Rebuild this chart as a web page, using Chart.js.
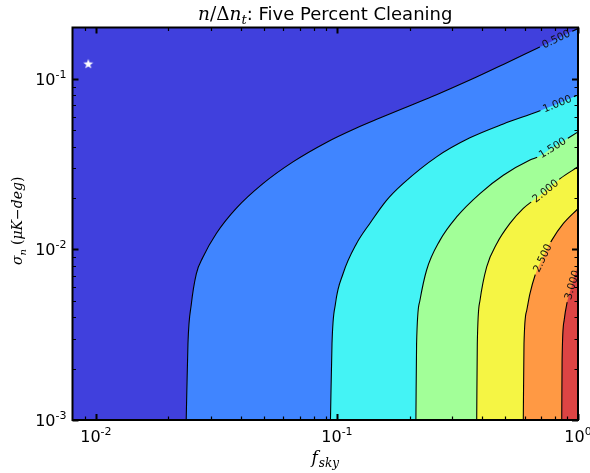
<!DOCTYPE html>
<html><head><meta charset="utf-8">
<script src="https://cdn.jsdelivr.net/npm/chart.js@4/dist/chart.umd.min.js"></script>
<style>html,body{margin:0;padding:0;background:#fff;}</style>
</head><body>
<canvas id="c" width="590" height="473"></canvas>
<script>
// ---- axis ranges & ticks ----
const xRange = [0.008, 1.0];
const yRange = [0.001, 0.2];
const xTicks = [0.01, 0.1, 1];
const xTickExp = ['-2', '-1', '0'];
const yTicks = [0.001, 0.01, 0.1];
const yTickExp = ['-3', '-2', '-1'];

// ---- contour levels ----
const levels = [0.5, 1.0, 1.5, 2.0, 2.5, 3.0];
const levelLabels = ['0.500', '1.000', '1.500', '2.000', '2.500', '3.000'];

// ---- contour curves (f_sky, sigma_n) ----
const c05x = [0.0237, 0.0241, 0.0249, 0.0261, 0.0278, 0.0316, 0.0382, 0.0493, 0.0657, 0.0904, 0.1205, 0.1506, 0.188, 0.259, 0.356, 0.49, 0.674, 0.811, 1.0];
const c05y = [0.001, 0.0028, 0.0048, 0.0072, 0.0090, 0.0124, 0.0174, 0.0243, 0.0326, 0.0424, 0.0515, 0.0589, 0.0671, 0.0807, 0.0983, 0.1215, 0.1508, 0.1709, 0.1972];
const c10x = [0.094, 0.0954, 0.0986, 0.106, 0.1205, 0.1369, 0.1606, 0.188, 0.259, 0.356, 0.49, 0.674, 0.82, 1.0];
const c10y = [0.001, 0.0028, 0.0048, 0.0072, 0.0108, 0.0142, 0.0194, 0.0243, 0.0349, 0.0451, 0.0544, 0.0640, 0.0713, 0.0805];
const c15x = [0.2126, 0.214, 0.2208, 0.2354, 0.2674, 0.3137, 0.392, 0.49, 0.632, 0.685, 0.784, 1.0];
const c15y = [0.001, 0.0028, 0.0050, 0.00755, 0.0113, 0.0155, 0.02125, 0.0272, 0.0334, 0.0349, 0.0394, 0.0489];
const c20x = [0.38, 0.3822, 0.392, 0.418, 0.46, 0.522, 0.593, 0.653, 0.733, 0.843, 1.0];
const c20y = [0.001, 0.0028, 0.0050, 0.0079, 0.0108, 0.0142, 0.0174, 0.0194, 0.0220, 0.026, 0.0305];
const c25x = [0.593, 0.597, 0.613, 0.632, 0.6636, 0.713, 0.778, 0.87, 1.0];
const c25y = [0.001, 0.0028, 0.0044, 0.0055, 0.00706, 0.0089, 0.0113, 0.0142, 0.01735];
const c30x = [0.856, 0.859, 0.876, 0.899, 0.945, 1.0];
const c30y = [0.001, 0.00224, 0.00384, 0.00481, 0.0062, 0.0081];
// index of the point in each contour where its inline label sits
const labelIndex = [17, 12, 10, 8, 5, 4];

// ---- marker ----
const starX = [0.0093];
const starY = [0.1225];

// ---- styles ----
const bgColor = 'rgb(64,64,221)';
const fillColors = ['rgb(64,133,255)', 'rgb(68,243,245)', 'rgb(162,255,152)', 'rgb(245,245,68)', 'rgb(255,153,68)', 'rgb(221,68,68)'];

const contoursX = [c05x, c10x, c15x, c20x, c25x, c30x];
const contoursY = [c05y, c10y, c15y, c20y, c25y, c30y];
const pts = (xs, ys) => xs.map((x, i) => ({x: x, y: ys[i]}));

// star image
const starImg = document.createElement('canvas');
starImg.width = 12; starImg.height = 12;
(function () {
  const g = starImg.getContext('2d');
  g.fillStyle = '#fff';
  g.beginPath();
  for (let i = 0; i < 10; i++) {
    const r = i % 2 === 0 ? 5.2 : 2.1;
    const a = -Math.PI / 2 + i * Math.PI / 5;
    const px = 6 + r * Math.cos(a), py = 6.3 + r * Math.sin(a);
    if (i === 0) g.moveTo(px, py); else g.lineTo(px, py);
  }
  g.closePath(); g.fill();
})();

const datasets = [];
levels.forEach((lv, k) => {
  datasets.push({
    label: 'fill ' + lv,
    data: pts(contoursX[k], contoursY[k]),
    borderWidth: 0, borderColor: 'rgba(0,0,0,0)',
    backgroundColor: fillColors[k],
    fill: 'start', pointRadius: 0, cubicInterpolationMode: 'monotone',
    order: 20 - k
  });
});
levels.forEach((lv, k) => {
  datasets.push({
    label: 'line ' + lv,
    data: pts(contoursX[k], contoursY[k]),
    borderWidth: 1.1, borderColor: '#000',
    fill: false, pointRadius: 0, cubicInterpolationMode: 'monotone',
    order: 10 - k, isContourLine: true, levelIdx: k
  });
});
datasets.push({
  label: 'star',
  data: pts(starX, starY),
  showLine: false, pointStyle: starImg, pointRadius: 6,
  order: 0
});

function labelGeom(chart, k) {
  const xs = chart.scales.x, ys = chart.scales.y;
  const i = labelIndex[k];
  const X = contoursX[k], Y = contoursY[k];
  const cx = xs.getPixelForValue(X[i]), cy = ys.getPixelForValue(Y[i]);
  const ax = xs.getPixelForValue(X[i - 1]), ay = ys.getPixelForValue(Y[i - 1]);
  const bx = xs.getPixelForValue(X[i + 1]), by = ys.getPixelForValue(Y[i + 1]);
  let ang = Math.atan2(by - ay, bx - ax);
  if (ang > Math.PI / 2) ang -= Math.PI;
  if (ang < -Math.PI / 2) ang += Math.PI;
  return {cx, cy, ang};
}

const LABEL_FONT = '10.5px "DejaVu Sans"';

function drawPieces(ctx, pieces, x, y, align) {
  let total = 0;
  pieces.forEach(p => { ctx.font = p.font; p.w = ctx.measureText(p.t).width; total += p.w + (p.gap || 0); });
  let sx = align === 'center' ? x - total / 2 : (align === 'right' ? x - total : x);
  pieces.forEach(p => {
    ctx.font = p.font;
    ctx.fillText(p.t, sx, y + (p.dy || 0));
    sx += p.w + (p.gap || 0);
  });
}

const plugin = {
  id: 'contourDecor',
  beforeDraw(chart) {
    const {ctx, chartArea: a} = chart;
    ctx.save();
    ctx.fillStyle = bgColor;
    ctx.fillRect(a.left, a.top, a.right - a.left, a.bottom - a.top);
    ctx.restore();
  },
  beforeDatasetDraw(chart, args) {
    const ds = chart.data.datasets[args.index];
    if (!ds.isContourLine) return;
    const ctx = chart.ctx;
    ctx.save();
    ctx.font = LABEL_FONT;
    const g = labelGeom(chart, ds.levelIdx);
    const w = ctx.measureText(levelLabels[ds.levelIdx]).width + 6;
    const h = 12;
    const c = Math.cos(g.ang), s = Math.sin(g.ang);
    const corners = [[-w / 2, -h / 2], [w / 2, -h / 2], [w / 2, h / 2], [-w / 2, h / 2]].map(([u, v]) => [g.cx + u * c - v * s, g.cy + u * s + v * c]);
    ctx.beginPath();
    ctx.rect(0, 0, chart.width, chart.height);
    ctx.moveTo(corners[0][0], corners[0][1]);
    for (let j = 1; j < 4; j++) ctx.lineTo(corners[j][0], corners[j][1]);
    ctx.closePath();
    ctx.clip('evenodd');
  },
  afterDatasetDraw(chart, args) {
    const ds = chart.data.datasets[args.index];
    if (!ds.isContourLine) return;
    chart.ctx.restore();
  },
  afterDraw(chart) {
    const {ctx, chartArea: a} = chart;
    const xs = chart.scales.x, ys = chart.scales.y;
    ctx.save();
    // contour labels
    ctx.fillStyle = '#111';
    ctx.font = LABEL_FONT;
    ctx.textAlign = 'center';
    ctx.textBaseline = 'middle';
    levels.forEach((lv, k) => {
      const g = labelGeom(chart, k);
      ctx.save();
      ctx.translate(g.cx, g.cy);
      ctx.rotate(g.ang);
      ctx.fillText(levelLabels[k], 0, 0.5);
      ctx.restore();
    });
    // frame
    ctx.strokeStyle = '#000';
    ctx.lineWidth = 2;
    ctx.strokeRect(a.left, a.top, a.right - a.left, a.bottom - a.top);
    // ticks
    const majorLen = 6, minorLen = 3.5;
    const xMinor = [], yMinor = [];
    for (let e = -3; e <= 0; e++) for (let m = 2; m <= 9; m++) {
      const v = m * Math.pow(10, e);
      if (v > xRange[0] && v < xRange[1]) xMinor.push(v);
      if (v > yRange[0] && v < yRange[1]) yMinor.push(v);
    }
    function xt(v, len, lw) {
      const px = Math.round(xs.getPixelForValue(v)) + 0.5;
      ctx.lineWidth = lw;
      ctx.beginPath();
      ctx.moveTo(px, a.bottom); ctx.lineTo(px, a.bottom - len);
      ctx.moveTo(px, a.top); ctx.lineTo(px, a.top + len);
      ctx.stroke();
    }
    function yt(v, len, lw) {
      const py = Math.round(ys.getPixelForValue(v)) + 0.5;
      ctx.lineWidth = lw;
      ctx.beginPath();
      ctx.moveTo(a.left, py); ctx.lineTo(a.left + len, py);
      ctx.moveTo(a.right, py); ctx.lineTo(a.right - len, py);
      ctx.stroke();
    }
    xMinor.forEach(v => xt(v, minorLen, 1.2));
    yMinor.forEach(v => yt(v, minorLen, 1.2));
    xTicks.forEach(v => xt(v, majorLen, 2));
    yTicks.forEach(v => yt(v, majorLen, 2));
    // tick labels
    ctx.fillStyle = '#000';
    ctx.textAlign = 'left';
    ctx.textBaseline = 'alphabetic';
    const baseFont = '16px "DejaVu Sans"', expFont = '11px "DejaVu Sans"';
    xTicks.forEach((v, i) => {
      const px = xs.getPixelForValue(v);
      drawPieces(ctx, [{t: '10', font: baseFont}, {t: xTickExp[i], font: expFont, dy: -7}], px, a.bottom + 22, 'center');
    });
    yTicks.forEach((v, i) => {
      const py = ys.getPixelForValue(v);
      drawPieces(ctx, [{t: '10', font: baseFont}, {t: yTickExp[i], font: expFont, dy: -7}], a.left - 6, py + 6, 'right');
    });
    // title
    const mI = 'italic 18.5px "DejaVu Serif"', mU = '18.5px "DejaVu Serif"', mS = 'italic 13px "DejaVu Serif"';
    drawPieces(ctx, [
      {t: 'n', font: mI}, {t: '/', font: mU}, {t: 'Δ', font: mU}, {t: 'n', font: mI},
      {t: 't', font: mS, dy: 4},
      {t: ': Five Percent Cleaning', font: '18px "DejaVu Sans"'}
    ], (a.left + a.right) / 2, 20, 'center');
    // x label
    drawPieces(ctx, [{t: 'f', font: 'italic 17px "DejaVu Serif"', gap: 1}, {t: 'sky', font: 'italic 12px "DejaVu Serif"', dy: 4}], (a.left + a.right) / 2, 463, 'center');
    // y label
    ctx.save();
    ctx.translate(22, (a.top + a.bottom) / 2 - 3);
    ctx.rotate(-Math.PI / 2);
    const yI = 'italic 14px "DejaVu Serif"', yU = '14px "DejaVu Serif"', yS = 'italic 10px "DejaVu Serif"';
    drawPieces(ctx, [
      {t: 'σ', font: yI}, {t: 'n', font: yS, dy: 4, gap: 4},
      {t: '(', font: yU}, {t: 'μK', font: yI}, {t: '−', font: yU}, {t: 'deg', font: yI}, {t: ')', font: yU}
    ], 0, 0, 'center');
    ctx.restore();
    ctx.restore();
  }
};

new Chart(document.getElementById('c'), {
  type: 'line',
  data: {datasets: datasets},
  options: {
    responsive: false,
    animation: false,
    devicePixelRatio: 1,
    layout: {padding: {left: 72.5, top: 27.5, right: 12, bottom: 53}},
    plugins: {legend: {display: false}, tooltip: {enabled: false}, title: {display: false}},
    scales: {
      x: {type: 'logarithmic', min: xRange[0], max: xRange[1], display: false},
      y: {type: 'logarithmic', min: yRange[0], max: yRange[1], display: false}
    }
  },
  plugins: [plugin]
});
</script>
</body></html>
